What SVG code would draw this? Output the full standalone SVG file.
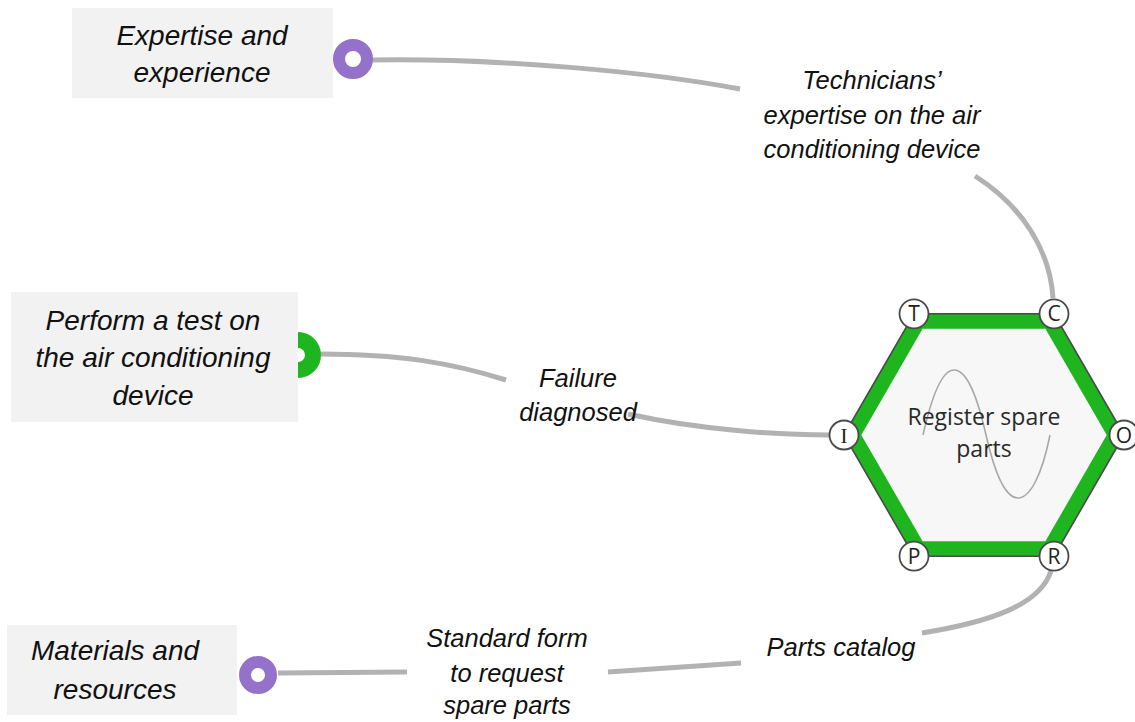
<svg xmlns="http://www.w3.org/2000/svg" width="1135" height="722" viewBox="0 0 1135 722">
  <style>
    .box { fill: #f2f2f2; }
    .boxtext { font-family: "Liberation Sans", Arial, sans-serif; font-style: italic; font-size: 28px; fill: #111; text-anchor: middle; }
    .label { font-family: "Liberation Sans", Arial, sans-serif; font-style: italic; font-size: 25.5px; fill: #111; text-anchor: middle; }
    .conn { fill: none; stroke: #b2b2b2; stroke-width: 5; }
    .ring-purple { fill: none; stroke: #9472c9; stroke-width: 12; }
    .ring-green { fill: none; stroke: #1fb51f; stroke-width: 16; }
    .port { fill: #ffffff; stroke: #4a4a4a; stroke-width: 1.8; }
    .porttext { font-family: "Open Sans", "DejaVu Sans", sans-serif; font-size: 21px; fill: #222; text-anchor: middle; }
    .fn { font-family: "Open Sans", "DejaVu Sans", sans-serif; font-size: 23px; fill: #2a2a2a; text-anchor: middle; }
  </style>
  <rect width="1135" height="722" fill="#ffffff"/>

  <!-- connectors and their labels -->
  <g id="connectors">
    <path class="conn" d="M372,60 C 500,58 650,72 740,89"/>
    <path class="conn" d="M975,176 C 1022,206 1050,250 1053,298"/>
    <path class="conn" d="M320,354 C 400,354 452,363 506,380"/>
    <path class="conn" d="M628,414 C 700,430 780,435 829,435"/>
    <path class="conn" d="M278,673 L407,672"/>
    <path class="conn" d="M608,672 L741,663"/>
    <path class="conn" d="M1051,571 C 1040,605 990,622 922,633"/>
    <text class="label" x="872" y="89">Technicians’</text>
    <text class="label" x="872" y="124">expertise on the air</text>
    <text class="label" x="872" y="158">conditioning device</text>
    <text class="label" x="578" y="387">Failure</text>
    <text class="label" x="578" y="421">diagnosed</text>
    <text class="label" x="841" y="656">Parts catalog</text>
    <text class="label" x="507" y="647">Standard form</text>
    <text class="label" x="507" y="682">to request</text>
    <text class="label" x="507" y="714">spare parts</text>
  </g>

  <g id="node-expertise">
    <rect class="box" x="72" y="8" width="261" height="90"/>
    <text class="boxtext" x="202" y="45">Expertise and</text>
    <text class="boxtext" x="202" y="82">experience</text>
    <circle class="ring-purple" cx="353" cy="59" r="14"/>
  </g>

  <g id="node-test">
    <circle class="ring-green" cx="298" cy="355" r="15"/>
    <rect class="box" x="11" y="292" width="287" height="130"/>
    <text class="boxtext" x="153" y="330">Perform a test on</text>
    <text class="boxtext" x="153" y="367">the air conditioning</text>
    <text class="boxtext" x="153" y="405">device</text>
  </g>

  <g id="node-materials">
    <rect class="box" x="7" y="625" width="230" height="90"/>
    <text class="boxtext" x="115" y="660">Materials and</text>
    <text class="boxtext" x="115" y="699">resources</text>
    <circle class="ring-purple" cx="258" cy="675" r="13"/>
  </g>

  <g id="node-register">
    <polygon points="1124,435 1054,313.8 914,313.8 844,435 914,556.2 1054,556.2" fill="#1fb51f" stroke="#4a4a4a" stroke-width="1.6"/>
    <polygon points="1106.7,435 1045.4,328.8 922.6,328.8 861.3,435 922.6,541.2 1045.4,541.2" fill="#f7f7f7"/>
    <path d="M923,435 C932,395 942,370 954,370 C968,370 978,400 986,435 C994,470 1005,498 1018,498 C1030,498 1042,475 1050,435" fill="none" stroke="#a8a8a8" stroke-width="1.6"/>
    <text class="fn" x="984" y="425">Register spare</text>
    <text class="fn" x="984" y="457">parts</text>
    <circle class="port" cx="914" cy="313.8" r="14.5"/>
    <text class="porttext" x="914" y="321">T</text>
    <circle class="port" cx="1054" cy="313.8" r="14.5"/>
    <text class="porttext" x="1054" y="321">C</text>
    <circle class="port" cx="1124" cy="435" r="14.5"/>
    <text class="porttext" x="1124" y="442.5">O</text>
    <circle class="port" cx="1054" cy="556.2" r="14.5"/>
    <text class="porttext" x="1054" y="563.5">R</text>
    <circle class="port" cx="914" cy="556.2" r="14.5"/>
    <text class="porttext" x="914" y="563.5">P</text>
    <circle class="port" cx="844" cy="435" r="14.5"/>
    <text class="porttext" x="844" y="442.5" style="font-family: 'Liberation Serif', serif;">I</text>
  </g>
</svg>
